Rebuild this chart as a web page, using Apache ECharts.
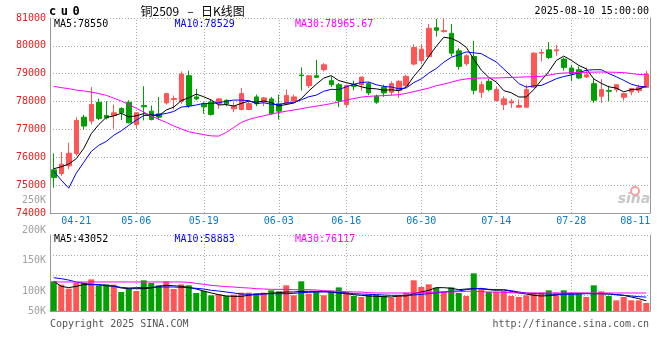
<!DOCTYPE html>
<html><head><meta charset="utf-8">
<script src="https://cdn.jsdelivr.net/npm/echarts@6/dist/echarts.min.js"></script>
<style>html,body{margin:0;padding:0;background:#fff}#c{width:660px;height:360px}</style>
</head><body><div id="c"></div>
<script>
const dates = ['04-16','04-17','04-18','04-21','04-22','04-23','04-24','04-25','04-28','04-29','04-30',
'05-06','05-07','05-08','05-09','05-12','05-13','05-14','05-15','05-16','05-19','05-20','05-21','05-22','05-23','05-26','05-27','05-28','05-29','05-30',
'06-03','06-04','06-05','06-06','06-09','06-10','06-11','06-12','06-13','06-16','06-17','06-18','06-19','06-20','06-23','06-24','06-25','06-26','06-27','06-30',
'07-01','07-02','07-03','07-04','07-07','07-08','07-09','07-10','07-11','07-14','07-15','07-16','07-17','07-18','07-21','07-22','07-23','07-24','07-25','07-28','07-29','07-30','07-31',
'08-01','08-04','08-05','08-06','08-07','08-08','08-11'];

const opens = [75550,75418,75692,76132,77441,77299,77977,77501,77501,77751,
77977,77180,77858,77656,77560,77953,78072,78013,78929,78167,
77918,77989,77918,78048,77739,77715,77715,78167,77989,78096,
77918,77918,78013,78953,78572,78929,79143,78750,78608,77894,
78608,78608,78643,78191,78512,78334,78394,78572,79346,79476,
79619,80650,80512,80452,79821,79357,79619,78334,78727,78036,
77894,77953,77798,77798,78512,79738,79857,79821,79524,79203,
79143,78881,78643,78191,78393,78429,78155,78346,78393,78512];
const closes = [75270,75752,76144,77322,77120,77894,77394,77418,77596,77596,
77239,77596,77810,77358,77441,78286,78108,78988,77858,78096,
77810,77537,78096,77918,77834,78286,77929,77918,78132,77560,
77656,78215,78167,78929,78929,78870,79322,78608,78037,78572,
78548,78881,78310,77977,78310,78643,78727,78905,79940,79881,
80631,80560,80547,79738,79262,79643,78405,78608,78429,78429,
78096,78013,77858,78429,79738,79762,79583,79857,79226,78988,
78846,78964,78048,78429,78370,78608,78286,78465,78512,78988];
const lows = [74910,75335,75573,76049,77001,77180,77334,77358,77025,77334,
77215,77037,77322,77322,77334,77894,77715,77918,77775,78048,
77560,77501,77739,77834,77620,77680,77691,77834,77834,77537,
77358,77870,77977,78394,78489,78870,79084,78524,77799,77799,
78405,78394,78227,77918,78167,78227,78132,78524,79298,79357,
79595,80333,80476,79619,79143,79286,78251,78132,78370,78013,
77691,77775,77775,77775,78489,79441,79524,79643,79107,78727,
78810,78846,77953,77953,78013,78334,78036,78227,78310,78489];
const highs = [76140,76192,76525,77441,77525,78524,78108,78013,77894,77799,
78048,77620,78548,77858,78167,78286,78215,79084,79108,78453,
77977,78072,78132,78072,77977,78489,77989,78251,78167,78167,
78251,78429,78251,79227,78929,79500,79381,78905,78667,78608,
78750,78881,78703,78251,78608,78727,78762,78964,80060,80060,
80785,80964,80990,80785,79917,79703,80179,78727,78810,78548,
78191,78096,78072,78608,79774,79881,80131,80036,79583,79322,
79262,79226,78846,78810,78572,78608,78310,78489,78608,79107];

const ma5 = [75590,75660,75760,75950,76318,76846,77175,77430,77484,77580,
77449,77489,77567,77520,77489,77698,77801,78036,78136,78267,
78172,78058,77879,77891,77839,77934,78013,77977,78020,77965,
77839,77896,77946,78105,78379,78622,78843,78932,78753,78682,
78617,78529,78470,78458,78405,78424,78393,78512,78905,79219,
79617,79981,80309,80269,80145,79947,79519,79131,78869,78703,
78393,78315,78165,78165,78427,78760,79074,79474,79633,79483,
79300,79176,78814,78655,78531,78484,78348,78432,78448,78550];
const ma10 = [75500,75180,74890,75430,75820,76210,76430,76570,76790,76949,
77148,77332,77499,77502,77534,77573,77645,77802,77828,77878,
77935,77929,77958,78014,78053,78053,78035,77928,77956,77902,
77887,77954,77962,78063,78172,78231,78370,78439,78429,78531,
78620,78686,78701,78605,78544,78521,78461,78491,78681,78812,
79021,79187,79411,79587,79682,79782,79750,79720,79569,79424,
79170,78917,78648,78517,78565,78577,78695,78819,78899,78955,
79030,79125,79144,79144,79007,78892,78762,78623,78551,78529];
const ma30 = [78547,78500,78464,78411,78382,78339,78286,78225,78125,78018,
77893,77757,77625,77482,77368,77250,77125,77018,76918,76864,
76811,76768,76761,76893,77071,77250,77357,77429,77489,77554,
77607,77654,77696,77743,77793,77836,77879,77929,77989,78054,
78107,78161,78186,78204,78214,78229,78246,78293,78357,78418,
78482,78571,78625,78696,78768,78811,78836,78846,78846,78846,
78857,78868,78875,78886,78893,78904,78946,79000,79025,79036,
79043,79050,79057,79061,79057,79050,79039,79007,78971,78966];

// volume, in thousands of lots
const volumesK = [125.7,111.6,94.6,120,120,134,108.8,113,111.6,80.5,
94.6,84.7,130,118.6,108.8,125.7,93.2,113,108.8,76.3,
84.7,66.4,70.6,63.6,69.2,77.7,77.7,74.9,77.7,87.6,
83.3,108.8,66.4,125.7,73.4,80.5,66.4,86,100,80.5,
63.6,59.3,69.2,69.2,63.6,56.5,66.4,77.7,130,101.7,
113,98.9,83.3,100,76.3,63.6,159.6,94.6,80.5,80.5,
84.7,63.6,59.3,66.4,77.7,77.7,87.6,77.7,87.6,76.3,
76.3,59.3,108.8,83.3,63.6,45.2,59.3,45.2,45.2,33.9];
const volMa5K = [126,104.5,99,104.5,111.6,111.6,111.6,107,104.5,97.5,
94.6,94.6,94.6,97.5,104.5,108.8,107,104.5,100,93,
84.7,76.3,69.2,63.6,62,62,66.4,70.6,73.4,74.9,
77.7,80.5,80.5,83.3,83.3,83.3,83.3,80.5,76.3,73.4,
69.2,66.4,63.6,62,60.7,59.3,63.6,63.6,73.4,80.5,
87.6,98.9,98.9,96,90.4,93.2,94.6,94.6,90.4,87.6,
89,83.3,76.3,72,66.4,63.6,65,67.8,74.9,74.9,
74.9,74.9,73.4,73.4,72,69.2,66.4,59.3,52.3,43.05];
const volMa10K = [141,137,131,123,117,113,111.6,108.8,106,100,
97.5,99,99,100,101.7,101.7,101.7,100,99,96,
93.2,87.6,84.7,80.5,76.3,72,70.6,70.6,72,73.4,
73.4,73.4,74.9,77.7,79,80.5,80.5,80.5,79,76.3,
73.4,72,70.6,69.2,67.8,66.4,66.4,66.4,67.8,70.6,
73.4,77.7,80.5,83.3,84.7,90.4,94.6,96,91.8,90.4,
90.4,86.2,80.5,76.3,73.4,73.4,72,70.6,70.6,70.6,
72,73.4,73.4,73.4,72,69.2,66.4,63.6,60.7,58.88];
const volMa30K = [123,123,123,123,123,123,123,123,123,123,
123,123,123,123,123,123,123,122.9,121.5,117,
113,108.8,106,103,101.7,99,97.5,94.6,93.2,91.8,
91.8,91.8,90.4,90.4,90.4,89,86.2,84.7,83.3,82,
80.5,80.5,77.7,76.3,76.3,76.3,76.3,76.3,76.3,76.3,
79,80.5,80.5,80.5,82,83.3,83.3,82,80.5,80.5,
79,77.7,76.3,76.3,76.3,76.3,76.3,76.3,76.3,76.3,
76.3,76.3,76.3,76.3,76.3,76.3,76.3,76.3,76.3,76.12];

const dateLabels = ['04-21','05-06','05-19','06-03','06-16','06-30','07-14','07-28','08-11'];
const gridDates = ['05-06','05-19','06-03','06-16','06-30','07-14','07-28'];
const volTickLabels = ['250K','200K','150K','100K','50K'];
const priceLegend = ['MA5:78550','MA10:78529','MA30:78965.67'];
const volLegend = ['MA5:43052','MA10:58883','MA30:76117'];
const symbolChars = ['c','u','0'];
const titleParts = ['铜2509','–','日K线图'];
const stamp = '2025-08-10 15:00:00';
const copyrightText = 'Copyright 2025 SINA.COM';
const urlText = 'http://finance.sina.com.cn';

const UP = '#ff5555', DOWN = '#00a000';
const MONO = '"DejaVu Sans Mono", "Liberation Mono", monospace';
const lineColors = ['#000000', '#0000ff', '#ff00ff'];
const gridLine = {color: '#aaaaaa', type: [1, 2], width: 1};

const chart = echarts.init(document.getElementById('c'), null, {renderer: 'canvas'});

const candleData = dates.map((d, i) => [opens[i], closes[i], lows[i], highs[i]]);
function vGridMark() {
  return {
    silent: true, symbol: ['none', 'none'], z: 1, animation: false,
    label: {show: false}, lineStyle: gridLine,
    data: gridDates.map(d => ({xAxis: d}))
  };
}

function maLine(data, color, xi, yi) {
  return {type: 'line', data: data, xAxisIndex: xi, yAxisIndex: yi, showSymbol: false, symbol: 'none',
    silent: true, smooth: false, lineStyle: {color: color, width: 1}, z: 4};
}

const legendTexts = [];
priceLegend.forEach((t, k) => legendTexts.push({type: 'text', x: 54 + k * 120.5, y: 24.3,
  style: {text: t, fill: lineColors[k], font: '10px ' + MONO, verticalAlign: 'middle'}}));
volLegend.forEach((t, k) => legendTexts.push({type: 'text', x: 54 + k * 120.5, y: 239.6,
  style: {text: t, fill: lineColors[k], font: '10px ' + MONO, verticalAlign: 'middle'}}));
const volLabelY = [200.6, 230.6, 260.6, 291.2, 311];
volTickLabels.forEach((t, k) => legendTexts.push({type: 'text', x: 46, y: volLabelY[k],
  style: {text: t, fill: '#a0a0a0', font: '10px ' + MONO, align: 'right', verticalAlign: 'middle'}}));
symbolChars.forEach((ch, k) => legendTexts.push({type: 'text', x: 49 + k * 11.7, y: 12.3,
  style: {text: ch, fill: '#000', font: 'bold 12px ' + MONO, verticalAlign: 'middle'}}));
const titleX = [140.5, 190.5, 201];
const titleAlign = ['left', 'center', 'left'];
titleParts.forEach((t, k) => legendTexts.push({type: 'text', x: titleX[k], y: 11,
  style: {text: t, fill: '#000', font: '12px "Noto Sans CJK SC", sans-serif', align: titleAlign[k], verticalAlign: 'middle'}}));
legendTexts.push({type: 'text', x: 649, y: 11.8,
  style: {text: stamp, fill: '#000', font: '10px ' + MONO, align: 'right', verticalAlign: 'middle'}});
legendTexts.push({type: 'text', x: 50, y: 324.6,
  style: {text: copyrightText, fill: '#555', font: '10px ' + MONO, verticalAlign: 'middle'}});
legendTexts.push({type: 'text', x: 649, y: 324.6,
  style: {text: urlText, fill: '#555', font: '10px ' + MONO, align: 'right', verticalAlign: 'middle'}});
legendTexts.push({type: 'text', x: 634, y: 199, z: 0,
  style: {text: 'sina', fill: '#c8c8c8', font: 'italic bold 14px "DejaVu Sans", sans-serif', align: 'center', verticalAlign: 'middle'}});
legendTexts.push({type: 'circle', shape: {cx: 635, cy: 191, r: 4}, z: 0,
  style: {fill: 'none', stroke: '#f6a0a0', lineWidth: 2}});

const axisGrey = {show: true, lineStyle: {color: '#999999'}};
const option = {
  animation: false,
  backgroundColor: '#ffffff',
  grid: [
    {left: 50, right: 10, top: 18, height: 195},
    {left: 50, right: 10, top: 235, height: 76}
  ],
  xAxis: [
    {type: 'category', gridIndex: 0, data: dates, boundaryGap: true,
      axisLine: axisGrey, axisTick: {show: false}, splitLine: {show: false},
      axisLabel: {
        interval: (i, v) => dateLabels.includes(v),
        formatter: v => v === dateLabels[dateLabels.length - 1] ? '{r|' + v + '}' : v,
        color: '#0a7cc8', fontFamily: MONO, fontSize: 10, margin: 3,
        rich: {r: {color: '#0a7cc8', fontFamily: MONO, fontSize: 10, padding: [0, 22, 0, 0]}}
      }},
    {type: 'category', gridIndex: 1, data: dates, boundaryGap: true, position: 'bottom',
      axisLine: {show: false}, axisTick: {show: false}, axisLabel: {show: false}, splitLine: {show: false}},
    {type: 'category', gridIndex: 1, data: dates, boundaryGap: true, position: 'top',
      axisLine: axisGrey, axisTick: {show: false}, axisLabel: {show: false}, splitLine: {show: false}}
  ],
  yAxis: [
    {type: 'value', gridIndex: 0, min: 74000, max: 81000, interval: 1000,
      axisLine: axisGrey, axisTick: {show: false},
      axisLabel: {color: '#e41e1e', fontFamily: MONO, fontSize: 10, margin: 4, formatter: v => String(v)},
      splitLine: {show: true, lineStyle: gridLine}},
    {type: 'value', gridIndex: 0, min: 74000, max: 81000, position: 'right',
      axisLine: axisGrey, axisTick: {show: false}, axisLabel: {show: false}, splitLine: {show: false}},
    {type: 'value', gridIndex: 1, min: 0, max: 322,
      axisLine: axisGrey, axisTick: {show: false}, axisLabel: {show: false}, splitLine: {show: false}},
    {type: 'value', gridIndex: 1, min: 0, max: 322, position: 'right',
      axisLine: axisGrey, axisTick: {show: false}, axisLabel: {show: false}, splitLine: {show: false}},
    // helper axis: panel divided in 20px rows from the top border
    {type: 'value', gridIndex: 1, inverse: true, min: 0, max: 3.8, interval: 1, show: true,
      axisLine: {show: false}, axisTick: {show: false}, axisLabel: {show: false},
      splitLine: {show: true, lineStyle: gridLine}}
  ],
  series: [
    {type: 'candlestick', xAxisIndex: 0, yAxisIndex: 0, data: candleData, barWidth: 5, silent: true, z: 3,
      itemStyle: {color: UP, color0: DOWN, borderColor: UP, borderColor0: DOWN, borderWidth: 1},
      markLine: vGridMark()},
    maLine(ma5, lineColors[0], 0, 0),
    maLine(ma10, lineColors[1], 0, 0),
    maLine(ma30, lineColors[2], 0, 0),
    {type: 'bar', xAxisIndex: 1, yAxisIndex: 2, data: volumesK, barWidth: 6, silent: true, z: 3,
      itemStyle: {color: p => closes[p.dataIndex] >= opens[p.dataIndex] ? UP : DOWN},
      markLine: vGridMark()},
    maLine(volMa5K, lineColors[0], 1, 2),
    maLine(volMa10K, lineColors[1], 1, 2),
    maLine(volMa30K, lineColors[2], 1, 2)
  ],
  graphic: legendTexts
};
chart.setOption(option);
</script>
</body></html>
